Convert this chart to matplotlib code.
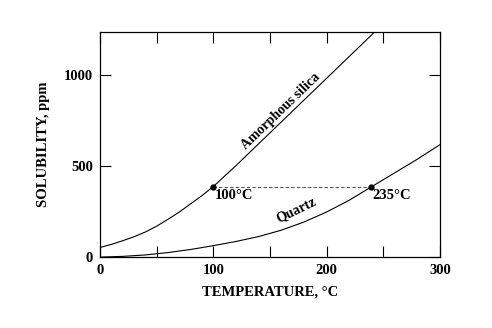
import matplotlib
matplotlib.use("Agg")
import matplotlib.pyplot as plt
from matplotlib.ticker import MultipleLocator

plt.rcParams['font.family'] = ['Liberation Serif', 'DejaVu Serif']
plt.rcParams['font.weight'] = 'bold'

# Solubility of silica phases in water (ppm) versus temperature (deg C)
amorph_t = [0, 10, 20, 30, 40, 50, 60, 70, 80, 90, 100, 120, 140, 160, 180,
            200, 220, 240, 250]
amorph_s = [55, 72, 92, 114, 140, 172, 210, 250, 295, 340, 390, 505, 625, 745,
            865, 985, 1105, 1225, 1290]

quartz_t = [0, 20, 40, 60, 80, 100, 120, 140, 160, 180, 200, 220, 240, 260, 280, 300]
quartz_s = [2, 6, 14, 27, 44, 65, 88, 115, 150, 195, 250, 315, 390, 465, 540, 620]

# Equal-solubility points
mark_t = [100, 239]
mark_s = [390, 390]
mark_labels = ["100°C", "235°C"]

fig = plt.figure(figsize=(4.92, 3.28), dpi=100)
ax = fig.add_axes([0.2033, 0.215, 0.691, 0.688])

ax.plot(amorph_t, amorph_s, color='black', lw=0.8)
ax.plot(quartz_t, quartz_s, color='black', lw=0.8)
ax.plot(mark_t, mark_s, color='#555555', lw=0.8, ls=(0, (3, 2)))
ax.plot(mark_t, mark_s, 'o', color='black', ms=3.5)

for t, s, lab in zip(mark_t, mark_s, mark_labels):
    ax.annotate(lab, (t, s), xytext=(1, -2), textcoords='offset points',
                ha='left', va='top', fontsize=10.5, fontweight='bold')

ax.text(160, 802, "Amorphous silica", rotation=44, rotation_mode='anchor',
        ha='center', va='center', fontsize=10, fontweight='bold')
ax.text(173, 261, "Quartz", rotation=26, rotation_mode='anchor',
        ha='center', va='center', fontsize=10, fontweight='bold')

ax.set_xlim(0, 300)
ax.set_ylim(0, 1240)
ax.xaxis.set_major_locator(MultipleLocator(100))
ax.xaxis.set_minor_locator(MultipleLocator(50))
ax.yaxis.set_major_locator(MultipleLocator(500))
ax.tick_params(which='both', direction='in', top=True, right=True,
               length=8, width=0.8, labelsize=10.5, pad=5)

for lab in ax.get_xticklabels() + ax.get_yticklabels():
    lab.set_fontweight('bold')

for sp in ax.spines.values():
    sp.set_linewidth(0.9)

ax.set_xlabel("TEMPERATURE, °C", fontsize=10.5, fontweight='bold', labelpad=6)
ax.set_ylabel("SOLUBILITY, ppm", fontsize=10.5, fontweight='bold', labelpad=10)

fig.savefig("out.png", dpi=100)
